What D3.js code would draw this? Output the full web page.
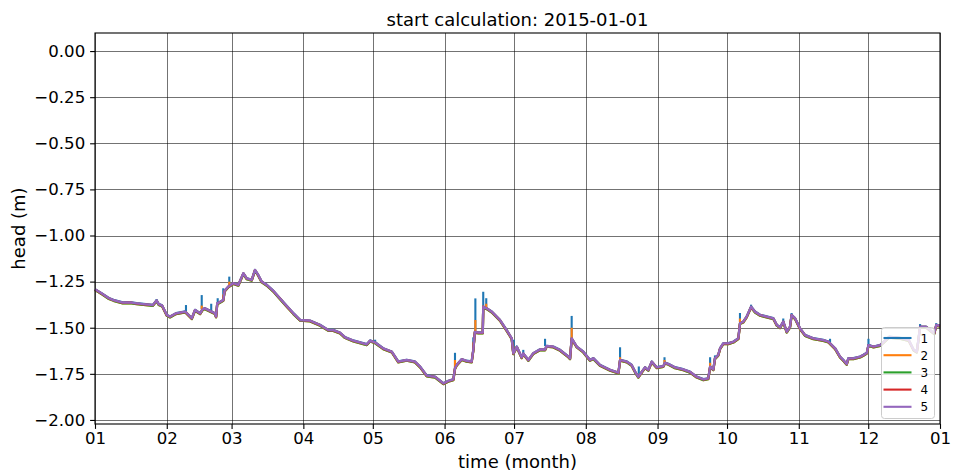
<!DOCTYPE html>
<html>
<head>
<meta charset="utf-8">
<script src="https://cdn.jsdelivr.net/npm/d3@7/dist/d3.min.js"></script>
<style>
  html, body { margin: 0; padding: 0; background: #fff; }
  svg { display: block; font-family: "DejaVu Sans", sans-serif; }
</style>
</head>
<body>
<svg id="chart" width="953" height="473"></svg>
<script>
// Simulated groundwater head per model layer, year 2015.
const startDate = "2015-01-01";
const layers = ["1", "2", "3", "4", "5"];
const layerColors = ["#1f77b4", "#ff7f0e", "#2ca02c", "#d62728", "#9467bd"];
// small head difference of each layer relative to layer 5 (m)
const layerOffset = [0.001, -0.004, -0.004, -0.001, 0.0];

// day of year (days after 1 January) and head of layer 5 (m)
const days = [0, 3, 6, 8, 12, 15, 18, 21, 25, 26.6, 27.5, 29, 31, 32.4, 35, 39, 41.8, 43.2, 45.4, 46.5,
  47.5, 50.4, 51.8, 52.3, 52.8, 54, 55.4, 56, 57.6, 59.7, 61.9, 64.1, 65.5, 67.7, 69.1, 70.5, 72, 74.2,
  77, 79.9, 83, 85.7, 88.6, 92.9, 97.2, 100.8, 102.9, 105.8, 108, 111.6, 117.4, 118.8, 121, 124.5,
  128.2, 131, 134.6, 138.2, 140.4, 143.3, 146.9, 150.5, 152.6, 154.8, 155.5, 156.2, 158.4, 160.5,
  162.7, 163.4, 164.1, 165.6, 167.5, 167.7, 169.2, 171.4, 174.9, 177.8, 180, 180.7, 182.2, 184.3, 185,
  187.2, 189.3, 192.2, 194.4, 195.1, 198, 200.9, 204.5, 205.2, 205.9, 208.1, 210.9, 213.8, 215.3,
  218.1, 222.5, 226.1, 226.8, 229.7, 231.8, 233.3, 234.7, 236.2, 237.6, 239, 240.5, 242.6, 245.5,
  246.2, 247.7, 250.5, 254.1, 257, 259.9, 262.8, 264.9, 265.7, 267.1, 267.8, 269.2, 270, 271.4, 273.6,
  275.8, 277.9, 278.6, 280, 281.5, 283.4, 285.1, 287.3, 290.1, 293, 294.5, 295.9, 297.3, 298.8, 300.2,
  300.9, 302.4, 304.5, 306.7, 310.3, 314.6, 316.8, 319.7, 321.8, 323.2, 324.7, 325.4, 327.6, 330.5,
  331.9, 333.4, 334.1, 336.3, 339.2, 343, 348, 351.5, 353.6, 355, 356.4, 359, 361.4, 362.5, 363.4, 365];
const head = [-1.292, -1.315, -1.340, -1.350, -1.364, -1.362, -1.368, -1.372, -1.377, -1.352, -1.372,
  -1.380, -1.431, -1.440, -1.422, -1.413, -1.449, -1.404, -1.422, -1.400,
  -1.395, -1.413, -1.422, -1.440, -1.368, -1.360, -1.350, -1.300, -1.277, -1.259, -1.268, -1.205,
  -1.232, -1.241, -1.187, -1.214, -1.250, -1.268,
  -1.300, -1.341, -1.385, -1.422, -1.458, -1.462, -1.485, -1.513, -1.513, -1.527, -1.552, -1.570,
  -1.590, -1.570, -1.580, -1.612,
  -1.630, -1.684, -1.675, -1.684, -1.711, -1.760, -1.766, -1.802, -1.789, -1.780, -1.720, -1.702,
  -1.671, -1.680,
  -1.684, -1.621, -1.522, -1.527, -1.527, -1.386, -1.395, -1.413, -1.458, -1.513, -1.558, -1.639,
  -1.603, -1.661, -1.640,
  -1.675, -1.639, -1.618, -1.618, -1.599, -1.603, -1.621, -1.657, -1.666, -1.558, -1.603, -1.630,
  -1.675, -1.666,
  -1.702, -1.729, -1.744, -1.675, -1.684, -1.702, -1.739, -1.766, -1.739, -1.715, -1.729, -1.684,
  -1.715, -1.708,
  -1.690, -1.697, -1.715, -1.726, -1.739, -1.766, -1.780, -1.775, -1.711, -1.726, -1.666, -1.648,
  -1.612, -1.585, -1.585,
  -1.576, -1.558, -1.476, -1.468, -1.440, -1.386, -1.413, -1.431, -1.440, -1.449, -1.485, -1.498,
  -1.467, -1.522, -1.495,
  -1.431, -1.449, -1.503, -1.540, -1.558, -1.567, -1.576, -1.612, -1.657, -1.675, -1.697, -1.666,
  -1.666, -1.657,
  -1.648, -1.636, -1.594, -1.603, -1.594, -1.550, -1.556, -1.567, -1.620, -1.630, -1.495, -1.495,
  -1.520, -1.530, -1.485, -1.490];

// short-lived peaks after recharge events: day, peak of layer 1, peak of layer 2, foot (m)
const spikeDays = [26.6, 39.3, 46.1, 50.2, 53.0, 55.4, 58.0, 121.0, 155.5, 163.4, 164.3, 167.7, 169.0,
  180.9, 185.0, 194.4, 205.9, 226.8, 234.9, 246.0, 265.7, 267.8, 278.6, 283.4, 297.3, 300.9, 317.5,
  334.1, 356.4, 363.4];
const spikePeak1 = [-1.345, -1.377, -1.323, -1.370, -1.340, -1.286, -1.223, -1.565, -1.636, -1.552,
  -1.341, -1.305, -1.340, -1.565, -1.620, -1.560, -1.436, -1.606, -1.710, -1.660, -1.660, -1.650,
  -1.420, -1.375, -1.450, -1.420, -1.560, -1.560, -1.480, -1.475];
const spikePeak2 = [null, null, -1.380, null, null, -1.320, -1.250, null, -1.675, -1.580, -1.458,
  -1.380, -1.370, null, null, null, -1.500, -1.660, null, -1.675, -1.690, null, -1.450, null, null,
  null, null, null, null, null];
const spikeFoot = [-1.360, -1.410, -1.400, -1.410, -1.370, -1.350, -1.270, -1.580, -1.720, -1.620,
  -1.520, -1.400, -1.395, -1.600, -1.650, -1.600, -1.560, -1.675, -1.750, -1.690, -1.710, -1.670,
  -1.470, -1.390, -1.470, -1.430, -1.580, -1.595, -1.495, -1.485];

const yTicks = [0, -0.25, -0.5, -0.75, -1.0, -1.25, -1.5, -1.75, -2.0];

const svg = d3.select("#chart");
const margin = { left: 95, right: 13, top: 33, bottom: 49 };
const W = 953, H = 473;
const x0 = margin.left, x1 = W - margin.right, y0 = margin.top, y1 = H - margin.bottom;

const t0 = new Date(startDate + "T00:00:00Z");
const dayToDate = d => new Date(t0.getTime() + d * 86400000);

const x = d3.scaleUtc().domain([t0, d3.utcYear.offset(t0, 1)]).range([x0, x1]);
const y = d3.scaleLinear().domain([-2.022, 0.098]).range([y1, y0]);

const monthTicks = x.ticks(d3.utcMonth.every(1));

// grid
const grid = svg.append("g").attr("stroke", "#000").attr("stroke-opacity", 0.55).attr("stroke-width", 1);
grid.selectAll("line.vx").data(monthTicks).join("line")
  .attr("x1", d => Math.round(x(d)) + 0.5).attr("x2", d => Math.round(x(d)) + 0.5)
  .attr("y1", y0).attr("y2", y1);
grid.selectAll("line.hy").data(yTicks).join("line")
  .attr("y1", d => Math.round(y(d)) + 0.5).attr("y2", d => Math.round(y(d)) + 0.5)
  .attr("x1", x0).attr("x2", x1);

// series
const plot = svg.append("g");
const line = d3.line().x(d => x(dayToDate(d[0]))).y(d => y(d[1]));
layers.forEach((name, i) => {
  const pts = days.map((d, k) => [d, head[k] + layerOffset[i]]);
  plot.append("path")
    .attr("d", line(pts))
    .attr("fill", "none")
    .attr("stroke", layerColors[i])
    .attr("stroke-width", 2.3)
    .attr("stroke-linejoin", "round");
  const peaks = i === 0 ? spikePeak1 : i === 1 ? spikePeak2 : null;
  if (peaks) {
    spikeDays.forEach((d, k) => {
      if (peaks[k] === null) return;
      plot.append("path")
        .attr("d", line([[d, spikeFoot[k]], [d, peaks[k]]]))
        .attr("stroke", layerColors[i])
        .attr("stroke-width", 2.1)
        .attr("fill", "none");
    });
  }
});

// axes
const xAxis = d3.axisBottom(x).tickValues(monthTicks).tickFormat(d3.utcFormat("%m"))
  .tickSize(4.9).tickPadding(3.5);
const gx = svg.append("g").attr("transform", `translate(0,${y1})`).call(xAxis);
const yAxis = d3.axisLeft(y).tickValues(yTicks)
  .tickFormat(d => d3.format(".2f")(d).replace("-", "\u2212"))
  .tickSize(4.9).tickPadding(4.9);
const gy = svg.append("g").attr("transform", `translate(${x0},0)`).call(yAxis);
[gx, gy].forEach(g => {
  g.select(".domain").remove();
  g.selectAll("line").attr("stroke", "#000").attr("stroke-width", 1.1);
  g.selectAll("text").attr("font-family", "DejaVu Sans").attr("font-size", 16.6).attr("fill", "#000");
});

// frame
svg.append("rect").attr("x", x0).attr("y", y0).attr("width", x1 - x0).attr("height", y1 - y0)
  .attr("fill", "none").attr("stroke", "#000").attr("stroke-width", 1.1);

// legend
const lg = svg.append("g").attr("transform", "translate(881.5,327.5)");
lg.append("rect").attr("width", 53).attr("height", 91).attr("rx", 3)
  .attr("fill", "#fff").attr("fill-opacity", 0.8).attr("stroke", "#ccc").attr("stroke-width", 1);
layers.forEach((name, i) => {
  const ry = 10.5 + i * 17.2;
  lg.append("line").attr("x1", 2).attr("x2", 30).attr("y1", ry).attr("y2", ry)
    .attr("stroke", layerColors[i]).attr("stroke-width", 2.1);
  lg.append("text").attr("x", 39).attr("y", ry + 4.5).attr("font-size", 12).attr("fill", "#000").text(name);
});

// titles
svg.append("text").attr("x", (x0 + x1) / 2).attr("y", 26).attr("text-anchor", "middle")
  .attr("font-size", 18).attr("fill", "#000").text("start calculation: " + startDate);
svg.append("text").attr("x", (x0 + x1) / 2).attr("y", 468).attr("text-anchor", "middle")
  .attr("font-size", 18).attr("fill", "#000").text("time (month)");
svg.append("text").attr("transform", `translate(25,${(y0 + y1) / 2}) rotate(-90)`)
  .attr("text-anchor", "middle").attr("font-size", 18).attr("fill", "#000").text("head (m)");
</script>
</body>
</html>
